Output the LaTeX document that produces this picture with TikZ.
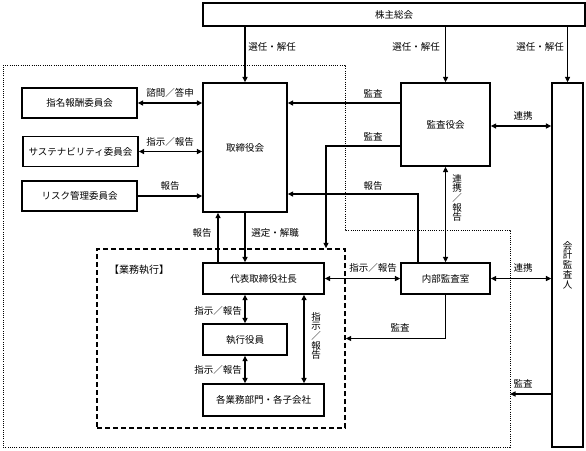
\documentclass[tikz,border=0pt]{standalone}
\usepackage{fontspec}
\setmainfont{Noto Sans CJK JP}
\usetikzlibrary{arrows.meta}
\begin{document}
\begin{tikzpicture}[x=1pt,y=-1pt,
  box/.style={draw,line width=1.3pt,inner sep=0pt,font=\fontsize{9.5}{11}\selectfont},
  lbl/.style={inner sep=0pt,font=\fontsize{9.5}{11}\selectfont},
  vlbl/.style={inner sep=0pt,align=center,font=\fontsize{9.5}{9.7}\selectfont},
  conn/.style={line width=1.3pt},
  arr/.style={conn,-{Triangle[length=5.5pt,width=5pt]}},
  darr/.style={conn,{Triangle[length=5.5pt,width=5pt]}-{Triangle[length=5.5pt,width=5pt]}}]
\useasboundingbox (0,0) rectangle (586,450);
% outer dotted region
\draw[line width=0.9pt,dash pattern=on 1pt off 1.2pt] (3,65) -- (345,65) -- (345,230) -- (510,230) -- (510,447) -- (3,447) -- cycle;
\coordinate (dr) at (510,394);
% execution dashed region
\node[draw,line width=1.4pt,dash pattern=on 5pt off 3pt,minimum width=248pt,minimum height=179pt,inner sep=0pt] (exec) at (221,338.5) {};
\node[lbl,font=\fontsize{10}{12}\selectfont] (execlbl) at (139,270) {【業務執行】};
% boxes
\node[box,minimum width=382pt,minimum height=23pt] (sh) at (394,14.5) {株主総会};
\node[box,minimum width=84pt,minimum height=129pt] (bd) at (245,147.5) {取締役会};
\node[box,minimum width=115pt,minimum height=30pt] (nc) at (79.5,103) {指名報酬委員会};
\node[box,minimum width=115pt,minimum height=30pt] (sc) at (80.5,151.5) {サステナビリティ委員会};
\node[box,minimum width=115pt,minimum height=30pt] (rc) at (79.5,196) {リスク管理委員会};
\node[box,minimum width=89pt,minimum height=83pt] (ab) at (445.5,124.5) {監査役会};
\node[box,minimum width=31pt,minimum height=364pt,align=center,font=\fontsize{9.5}{9.7}\selectfont] (ea) at (567.5,265) {会\\計\\監\\査\\人};
\node[box,minimum width=89pt,minimum height=31pt] (ia) at (445.5,278.5) {内部監査室};
\node[box,minimum width=121pt,minimum height=31pt] (ceo) at (263.5,278.5) {代表取締役社長};
\node[box,minimum width=84pt,minimum height=31pt] (eo) at (245,339.5) {執行役員};
\node[box,minimum width=121pt,minimum height=32pt] (dv) at (263.5,400) {各業務部門・各子会社};
% shareholders
\draw[arr] (sh.south -| bd.north) -- (bd.north);
\node[lbl] (l1) at (272,47) {選任・解任};
\draw[arr] (sh.south -| ab.north) -- (ab.north);
\node[lbl] (l2) at (416,47) {選任・解任};
\draw[arr] (sh.south -| ea.north) -- (ea.north);
\node[lbl] (l3) at (540,47) {選任・解任};
% committees
\draw[darr] (nc.east) -- (nc.east -| bd.west);
\node[lbl] (l4) at (170,93) {諮問／答申};
\draw[darr] (sc.east) -- (sc.east -| bd.west);
\node[lbl] (l5) at (170,142) {指示／報告};
\draw[arr] (rc.east) -- (rc.east -| bd.west);
\node[lbl] (l6) at (170,186) {報告};
% audit board
\draw[arr] (ab.west |- nc.east) -- (bd.east |- nc.east);
\node[lbl] (l7) at (373,94) {監査};
\coordinate (m1) at (326,146);
\draw[arr] (ab.west |- m1) -| (exec.north -| m1);
\node[lbl] (l8) at (373,137) {監査};
\draw[arr] ([xshift=-27.5pt]ia.north) |- ([yshift=-46.5pt]bd.east);
\node[lbl] (l9) at (373,186) {報告};
\draw[darr] (ab.south) -- (ia.north);
\node[vlbl] (l10) at (457,198) {連\\携\\／\\報\\告};
\draw[darr] (ab.east |- 0,126) -- (ea.west |- 0,126);
\node[lbl] (l11) at (523,116) {連携};
% internal audit
\draw[darr] (ceo.east) -- (ia.west);
\node[lbl] (l12) at (373,268) {指示／報告};
\draw[arr] (ia.south) |- (exec.east);
\node[lbl] (l13) at (400,328) {監査};
\draw[darr] (ia.east) -- (ia.east -| ea.west);
\node[lbl] (l14) at (523,268) {連携};
\draw[arr] (ea.west |- dr) -- (dr);
\node[lbl] (l15) at (523,384) {監査};
% board - ceo
\draw[arr] ([xshift=-45.5pt]ceo.north) -- ([xshift=-27pt]bd.south);
\node[lbl] (l16) at (202,233) {報告};
\draw[arr] (bd.south) -- (bd.south |- ceo.north);
\node[lbl] (l17) at (275,233) {選定・解職};
% execution chain
\draw[darr] (eo.north |- ceo.south) -- (eo.north);
\node[lbl] (l18) at (218,311) {指示／報告};
\draw[darr] (eo.south) -- (eo.south |- dv.north);
\node[lbl] (l19) at (218,370) {指示／報告};
\draw[darr] ([xshift=40.5pt]ceo.south) -- ([xshift=40.5pt]dv.north);
\node[vlbl] (l20) at (316,336) {指\\示\\／\\報\\告};
\end{tikzpicture}
\end{document}
